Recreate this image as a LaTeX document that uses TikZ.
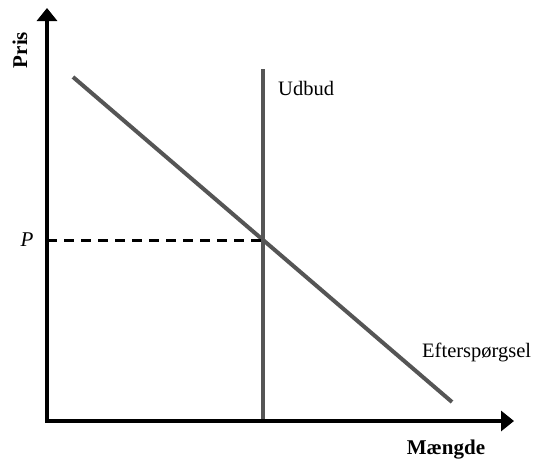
\documentclass[tikz,border=0pt]{standalone}
\usepackage{fontspec}
\setmainfont{Liberation Serif}
\usetikzlibrary{arrows.meta}
\definecolor{linegray}{RGB}{85,85,85}
\begin{document}
\begin{tikzpicture}[x=1pt,y=-1pt,
  axis/.style={line width=3.8pt,-{Triangle[length=13pt,width=20pt]}},
  curve/.style={line width=4pt,draw=linegray},
  lbl/.style={font=\fontsize{20.5}{24}\selectfont,inner sep=0pt},
  axlbl/.style={font=\fontsize{21}{24}\selectfont\bfseries,inner sep=0pt}]
\useasboundingbox (0,0) rectangle (535,464);
\coordinate (O) at (47,421);
\coordinate (ytop) at (47,8);
\coordinate (xend) at (514,421);
\coordinate (d1) at (73,77);
\coordinate (d2) at (452,402);
\coordinate (s1) at (263,69);
\coordinate (s2) at (263,421);
\coordinate (pax) at (47,240);
\coordinate (eq) at (263,240);
\draw[curve] (d1) -- (d2);
\draw[curve] (s1) -- (s2);
\draw[line width=3pt,dash pattern=on 10pt off 7pt] (pax) -- (eq);
\draw[axis,line cap=rect] (O) -- (ytop);
\draw[axis] ([xshift=-1.9pt]O) -- (xend);
\node[axlbl,rotate=90] (pris) at (20,50) {Pris};
\node[axlbl] (maengde) at (446,450) {Mængde};
\node[lbl,font=\fontsize{21}{24}\selectfont\itshape] (p) at (27,240) {P};
\node[lbl,anchor=west] (udbud) at (278,88) {Udbud};
\node[lbl,anchor=west] (eft) at (422,352) {Efterspørgsel};
\end{tikzpicture}
\end{document}
